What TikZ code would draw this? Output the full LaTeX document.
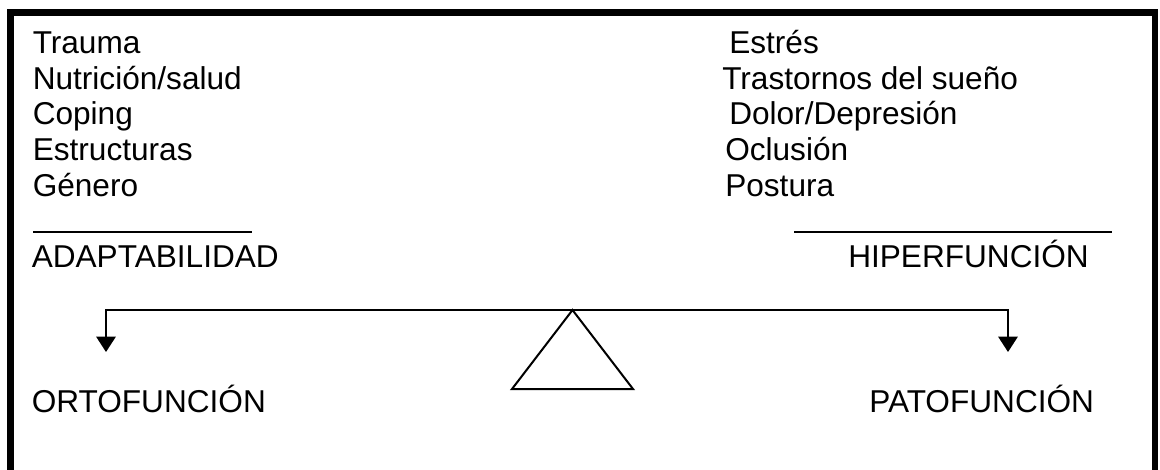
\documentclass[tikz,border=0pt]{standalone}
\usepackage{fontspec}
\setmainfont{Liberation Sans}
\usetikzlibrary{arrows.meta}
\begin{document}
\begin{tikzpicture}[x=0.75pt,y=-0.75pt,
  lbl/.style={anchor=base west,inner sep=0pt,font=\fontsize{23.7pt}{27pt}\selectfont},
  rule/.style={line width=1.5pt},
  beam/.style={line width=1.5pt},
  drop/.style={line width=1.5pt,-{Triangle[width=14.5pt,length=11.5pt]}},
  frame/.style={line width=5pt}]
\useasboundingbox (0,0) rectangle (1160,469);
\begin{scope}
\clip (0,0) rectangle (1160,469);
\draw[frame] (10.5,490) -- (10.5,12.5) -- (1155,12.5) -- (1155,490);
\end{scope}
% left column
\node[lbl] (t1) at (32.5,53) {Trauma};
\node[lbl] (t2) at (32.5,89) {Nutrición/salud};
\node[lbl] (t3) at (32.5,124.5) {Coping};
\node[lbl] (t4) at (32.5,160) {Estructuras};
\node[lbl] (t5) at (32.5,196) {Género};
% right column
\node[lbl] (r1) at (729,53) {Estrés};
\node[lbl] (r2) at (722,89) {Trastornos del sueño};
\node[lbl] (r3) at (729,124.5) {Dolor/Depresión};
\node[lbl] (r4) at (725,160) {Oclusión};
\node[lbl] (r5) at (725,196) {Postura};
% underlines
\coordinate (ulA) at (33,232);
\coordinate (ulB) at (252,232);
\coordinate (urA) at (794,232);
\coordinate (urB) at (1112,232);
\draw[rule] (ulA) -- (ulB);
\draw[rule] (urA) -- (urB);
\node[lbl] (adapt) at (31.5,267) {ADAPTABILIDAD};
\node[lbl] (hiper) at (848,267) {HIPERFUNCIÓN};
% balance
\coordinate (bl) at (106,310);
\coordinate (br) at (1008,310);
\coordinate (apex) at (572.5,310);
\coordinate (tl) at (106,352);
\coordinate (tr) at (1008,352);
\coordinate (baseL) at (512,389);
\coordinate (baseR) at (633,389);
\draw[drop] (br) -- (bl) -- (tl);
\draw[drop] (bl) -- (br) -- (tr);
\draw[beam,line join=miter] (apex) -- (baseL) -- (baseR) -- cycle;
\node[lbl] (orto) at (31.5,412) {ORTOFUNCIÓN};
\node[lbl] (pato) at (869,412) {PATOFUNCIÓN};
\end{tikzpicture}
\end{document}
